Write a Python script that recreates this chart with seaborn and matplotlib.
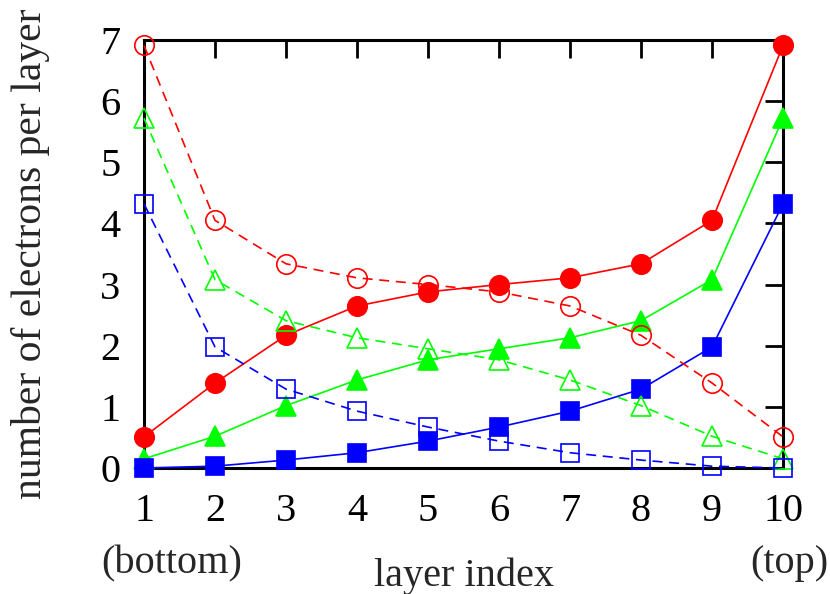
import matplotlib
matplotlib.use("Agg")
import matplotlib.pyplot as plt
import seaborn as sns
import pandas as pd

layers = list(range(1, 11))
red_filled = [0.51, 1.39, 2.17, 2.65, 2.88, 3.00, 3.11, 3.34, 4.05, 6.91]
red_open = [6.91, 4.05, 3.34, 3.11, 3.00, 2.88, 2.65, 2.17, 1.39, 0.51]
green_filled = [0.15, 0.52, 1.02, 1.44, 1.77, 1.95, 2.13, 2.41, 3.08, 5.72]
green_open = [5.72, 3.08, 2.41, 2.13, 1.95, 1.77, 1.44, 1.02, 0.52, 0.15]
blue_filled = [0.00, 0.03, 0.13, 0.25, 0.44, 0.67, 0.93, 1.29, 1.98, 4.32]
blue_open = [4.32, 1.98, 1.29, 0.93, 0.67, 0.44, 0.25, 0.13, 0.03, 0.00]

sns.set_theme(style="white")
plt.rcParams["font.family"] = ["Liberation Serif", "DejaVu Serif"]

fig, ax = plt.subplots(figsize=(8.3, 5.94), dpi=100)
fig.subplots_adjust(left=0.1735, right=0.9434, top=0.9327, bottom=0.2121)

series = [
    (red_filled, "#ff0000", "o", True, 14),
    (green_filled, "#00ff00", "^", True, 14),
    (blue_filled, "#0000ff", "s", True, 13),
    (red_open, "#ff0000", "o", False, 14),
    (green_open, "#00ff00", "^", False, 14),
    (blue_open, "#0000ff", "s", False, 13),
]

for vals, col, mk, filled, ms in series:
    df = pd.DataFrame({"layer": layers, "n": vals})
    kw = dict(
        marker=mk, markersize=ms, color=col, linewidth=1.2,
        markeredgecolor=col, markeredgewidth=1.2, clip_on=False,
    )
    if filled:
        sns.lineplot(data=df, x="layer", y="n", ax=ax, markerfacecolor=col, **kw)
    else:
        sns.lineplot(data=df, x="layer", y="n", ax=ax, markerfacecolor="none",
                     dashes=(6, 4), **kw)

ax.set_xlim(1, 10)
ax.set_ylim(0, 7)
ax.set_xticks(layers)
ax.set_yticks(range(0, 8))
ax.tick_params(direction="in", length=13, width=2, labelsize=29,
               top=True, right=True, colors="black")
ax.tick_params(axis="x", pad=18)
ax.tick_params(axis="y", pad=17)
for sp in ax.spines.values():
    sp.set_linewidth(2.2)
    sp.set_color("black")
    sp.set_zorder(1)

ax.set_xlabel("layer index", fontsize=29, labelpad=20)
ax.set_ylabel("number of electrons per layer", fontsize=30, labelpad=36)

fig.text(172 / 830, 1 - 564 / 594, "(bottom)", fontsize=29, ha="center", va="center")
fig.text(789 / 830, 1 - 564 / 594, "(top)", fontsize=29, ha="center", va="center")

fig.savefig("out.png", dpi=100)
